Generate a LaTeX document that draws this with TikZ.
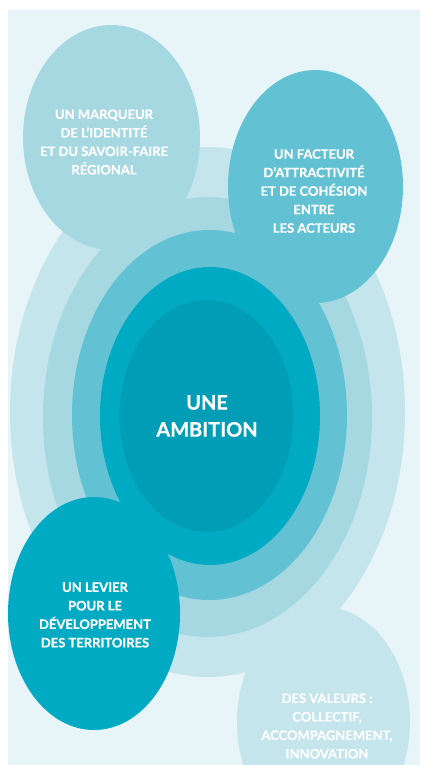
\documentclass[tikz,border=0pt]{standalone}
\usepackage{fontspec}
\setmainfont{Lato}[BoldFeatures={FakeBold=0.6}]
\usepackage{xcolor}
\usetikzlibrary{shapes.geometric}

\definecolor{fond}{HTML}{E8F5F8}
\definecolor{anneauA}{HTML}{C4E5EC}
\definecolor{anneauB}{HTML}{A6D8E2}
\definecolor{anneauC}{HTML}{62C2D3}
\definecolor{anneauD}{HTML}{00AAC2}
\definecolor{anneauE}{HTML}{009DB6}

\begin{document}
\begin{tikzpicture}[x=1pt,y=-1pt,
    blob/.style={ellipse,inner sep=0pt,outer sep=0pt,draw=none},
    lbl/.style={text=white,align=center,font=\bfseries\fontsize{13}{18.5}\selectfont},
    gros/.style={text=white,align=center,font=\bfseries\fontsize{20}{27}\selectfont}]
  \useasboundingbox (0,0) rectangle (420,765);
  \clip (8,10) rectangle (420,765);
  \fill[fond] (8,10) rectangle (420,765);
  % anneaux
  \node[blob,fill=anneauA,minimum width=395,minimum height=530] (ringA) at (207.5,412) {};
  \node[blob,fill=anneauB,minimum width=329,minimum height=440] (ringB) at (207.5,417) {};
  \node[blob,fill=anneauC,minimum width=275,minimum height=370] (ringC) at (209.5,415) {};
  \node[blob,fill=anneauD,minimum width=220,minimum height=298] (ringD) at (210,416) {};
  \node[blob,fill=anneauE,minimum width=174,minimum height=232] (ringE) at (206.5,416) {};
  % bulles
  \node[blob,fill=anneauB,minimum width=177,minimum height=225] (marqueur) at (111.5,137.5) {};
  \node[blob,fill=anneauC,minimum width=175,minimum height=233] (facteur) at (315.5,186.5) {};
  \node[blob,fill=anneauD,minimum width=172,minimum height=233] (levier) at (94,613.5) {};
  \node[blob,fill=anneauA,minimum width=173,minimum height=230] (valeurs) at (323.5,722) {};
  % textes
  \node[lbl] (tmarqueur) at (104,142) {UN MARQUEUR\\DE L'IDENTITÉ\\ET DU SAVOIR-FAIRE\\RÉGIONAL};
  \node[lbl] (tfacteur) at (314,191) {UN FACTEUR\\D'ATTRACTIVITÉ\\ET DE COHÉSION\\ENTRE\\LES ACTEURS};
  \node[gros] (tambition) at (207,416) {UNE\\AMBITION};
  \node[lbl] (tlevier) at (95,615) {UN LEVIER\\POUR LE\\DÉVELOPPEMENT\\DES TERRITOIRES};
  \node[lbl] (tvaleurs) at (327,726) {DES VALEURS :\\COLLECTIF,\\ACCOMPAGNEMENT,\\INNOVATION};
\end{tikzpicture}
\end{document}
